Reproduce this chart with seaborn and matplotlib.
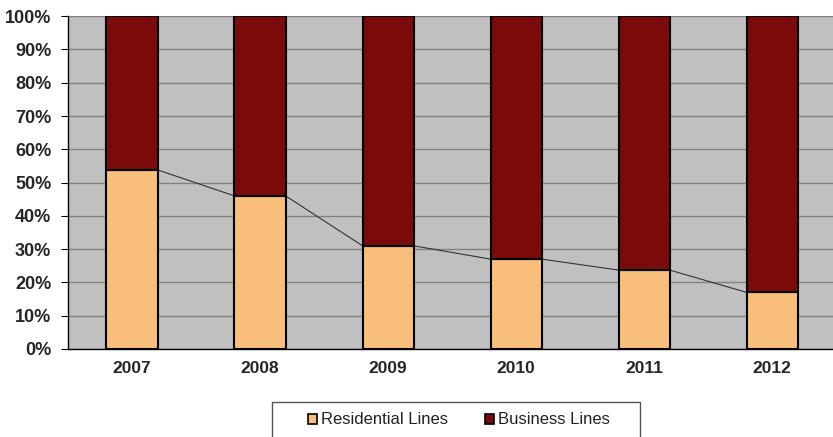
import matplotlib
matplotlib.use('Agg')
import matplotlib.pyplot as plt
import seaborn as sns
import pandas as pd
from matplotlib.patches import Patch, Rectangle
from matplotlib.ticker import PercentFormatter

years = ['2007', '2008', '2009', '2010', '2011', '2012']
residential = [53.8, 46.0, 31.0, 27.0, 23.7, 17.0]
business = [46.2, 54.0, 69.0, 73.0, 76.3, 83.0]

res_color = '#F9BE7C'
bus_color = '#7B0A0A'

df = pd.DataFrame({'year': years, 'Residential Lines': residential, 'Business Lines': business})

sns.set_style('white')
plt.rcParams['font.family'] = ['Liberation Sans', 'DejaVu Sans']

fig = plt.figure(figsize=(8.33, 4.37), dpi=100)
ax = fig.add_axes([0.0816, 0.2014, 0.9224, 0.7616])
ax.set_facecolor('#C0C0C0')

bw = 0.4
sns.barplot(data=df, x='year', y='Residential Lines', color=res_color, width=bw,
            edgecolor='black', linewidth=1.5, saturation=1, ax=ax, zorder=3)
sns.barplot(data=df, x='year', y='Business Lines', bottom=df['Residential Lines'],
            color=bus_color, width=bw, edgecolor='black', linewidth=1.5,
            saturation=1, ax=ax, zorder=3)

# series lines between tops of residential segments
for i in range(len(years) - 1):
    ax.plot([i + bw / 2, i + 1 - bw / 2], [residential[i], residential[i + 1]],
            color='#333333', lw=0.8, zorder=2)

ax.set_ylim(0, 100)
ax.set_xlim(-0.5, len(years) - 0.5)
ax.set_yticks(range(0, 101, 10))
ax.yaxis.set_major_formatter(PercentFormatter(decimals=0))
ax.yaxis.grid(True, color='#808080', lw=1)
ax.set_axisbelow(True)
ax.set_xlabel('')
ax.set_ylabel('')

for s in ['top', 'right']:
    ax.spines[s].set_visible(False)
for s in ['left', 'bottom']:
    ax.spines[s].set_color('black')
    ax.spines[s].set_linewidth(1)

ax.set_xticks([i - 0.5 for i in range(len(years) + 1)], minor=True)
ax.tick_params(axis='x', which='major', length=0, pad=9, labelsize=12.5)
ax.tick_params(axis='x', which='minor', length=5, direction='out', color='black')
ax.tick_params(axis='y', length=5, direction='out', color='black', left=True,
               labelsize=13, pad=7)
for lab in ax.get_xticklabels() + ax.get_yticklabels():
    lab.set_fontweight('bold')

handles = [Patch(facecolor=res_color, edgecolor='black', lw=1.2),
           Patch(facecolor=bus_color, edgecolor='black', lw=1.2)]
leg = fig.legend(handles, ['Residential Lines', 'Business Lines'], loc='center left',
                 bbox_to_anchor=(308 / 833, 1 - 420 / 437), ncol=2, frameon=False,
                 fontsize=12, handlelength=0.55, handleheight=0.55, handletextpad=0.25,
                 columnspacing=2.2, borderpad=0, borderaxespad=0)
for t in leg.get_texts():
    t.set_color('#222222')

# legend frame, open at the bottom edge like the reference
fig.patches.append(Rectangle((272 / 833, -0.05), (640 - 272) / 833, 0.05 + 1 - 402 / 437,
                             transform=fig.transFigure, fill=False,
                             edgecolor='#555555', lw=1))

fig.savefig('out.png', dpi=100)
